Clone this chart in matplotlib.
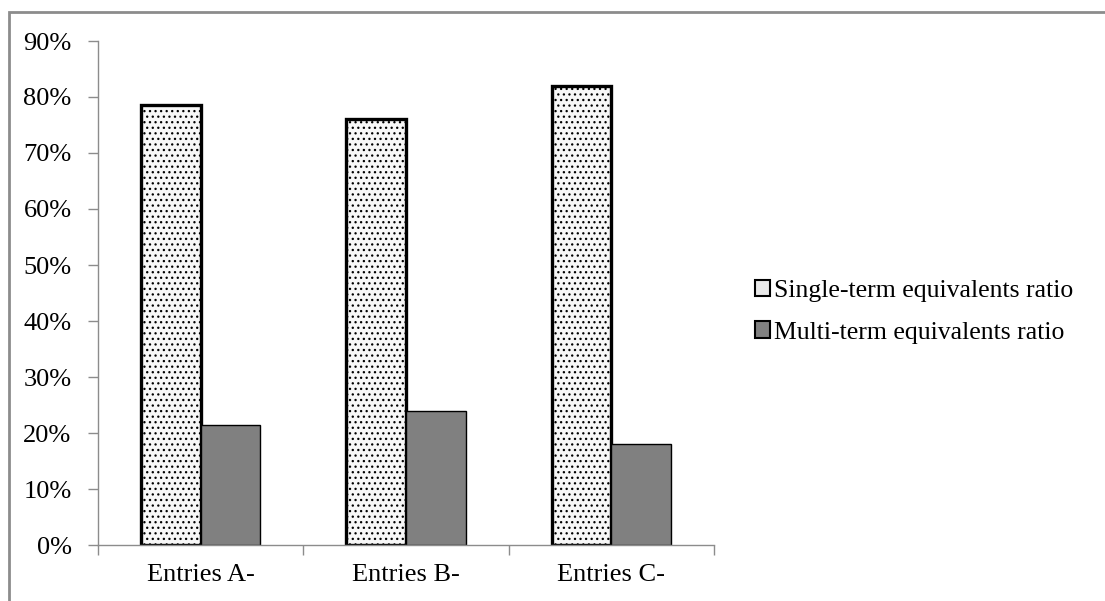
import matplotlib.pyplot as plt
import numpy as np
from matplotlib.patches import Rectangle

plt.rcParams['font.family'] = ['Liberation Serif', 'DejaVu Serif']
plt.rcParams['hatch.linewidth'] = 0.9
plt.rcParams['hatch.color'] = '#808080'

categories = ['Entries A-', 'Entries B-', 'Entries C-']
single_term = [78.5, 76.0, 82.0]
multi_term = [21.5, 24.0, 18.0]
series_names = ['Single-term equivalents ratio', 'Multi-term equivalents ratio']
y_ticks = [0, 10, 20, 30, 40, 50, 60, 70, 80, 90]

fig = plt.figure(figsize=(11.05, 6.01), dpi=100)
# outer chart border
fig.patches.append(Rectangle((9 / 1105, -0.01), 1.02, 1 - 12 / 601 + 0.01,
                             transform=fig.transFigure, fill=False,
                             edgecolor='#8c8c8c', linewidth=2))

ax = fig.add_axes([98 / 1105, 56 / 601, (714 - 98) / 1105, (545 - 41) / 601])
x = np.arange(len(categories))
w = 0.29
ax.bar(x - w / 2, single_term, w, facecolor='#f7f7f7', edgecolor='black',
       linewidth=2.4, hatch='...', label=series_names[0])
ax.bar(x + w / 2, multi_term, w, facecolor='#808080', edgecolor='black',
       linewidth=1.0, label=series_names[1])

ax.set_xlim(-0.5, 2.5)
ax.set_ylim(0, 90)
ax.set_yticks(y_ticks)
ax.set_yticklabels([f'{v}%' for v in y_ticks], fontsize=19)
ax.set_xticks(x)
ax.set_xticklabels(categories, fontsize=19)
ax.tick_params(axis='x', length=0, pad=14)
ax.set_xticks([-0.5, 0.5, 1.5, 2.5], minor=True)
ax.tick_params(axis='x', which='minor', length=7, color='#8c8c8c', width=1)
ax.tick_params(axis='y', length=7, color='#8c8c8c', width=1, pad=12)
for s in ['top', 'right']:
    ax.spines[s].set_visible(False)
for s in ['left', 'bottom']:
    ax.spines[s].set_color('#8c8c8c')
    ax.spines[s].set_linewidth(1)

leg = fig.legend(loc='upper left', bbox_to_anchor=(755 / 1105, 1 - 280 / 601),
                 frameon=False, fontsize=18.5, handlelength=0.6,
                 handleheight=0.6, handletextpad=0.15, labelspacing=0.75,
                 borderpad=0, borderaxespad=0)
for h in leg.legend_handles:
    h.set_hatch(None)
    h.set_linewidth(1.5)
leg.legend_handles[0].set_facecolor('#e8e8e8')

fig.savefig('out.png', dpi=100)
